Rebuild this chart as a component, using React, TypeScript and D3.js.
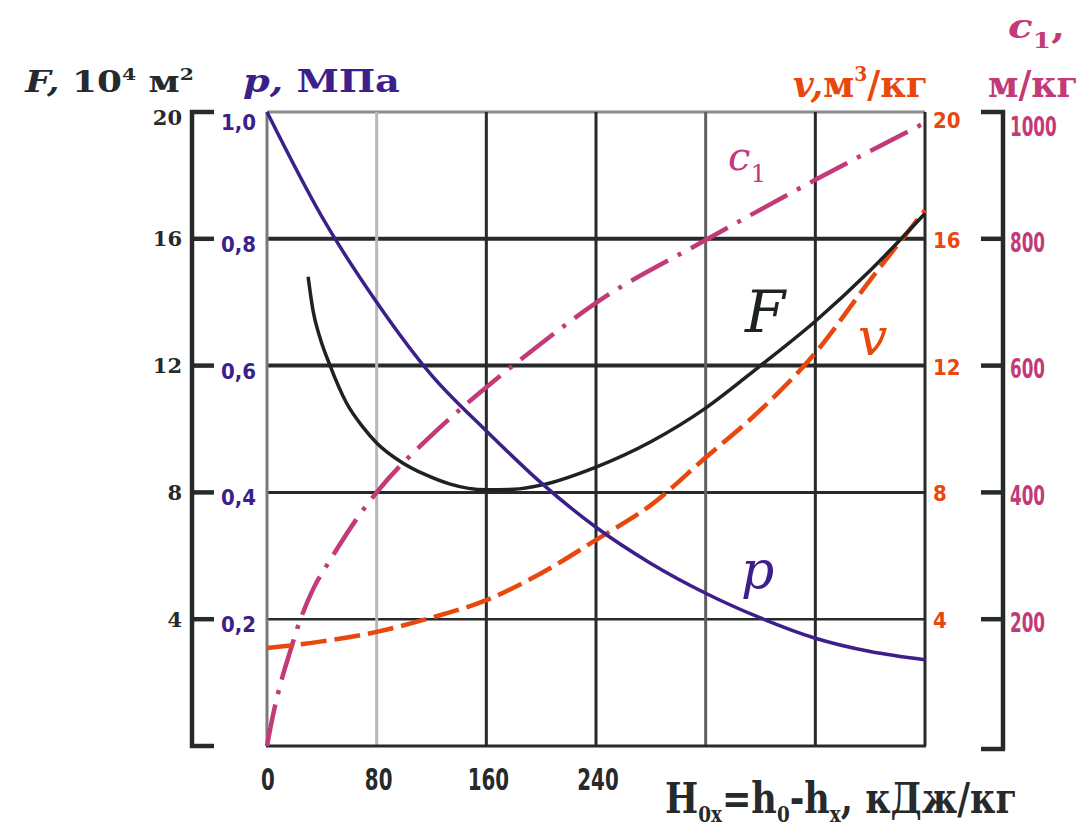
import React, { useEffect, useRef } from 'react';
import * as d3 from 'd3';

// x: H0x = h0 - hx, кДж/кг
const xTickValues = [0, 80, 160, 240];
const xGridValues = [80, 160, 240, 320, 400, 480];

const fTickValues = [20, 16, 12, 8, 4];
const pTickValues = [1.0, 0.8, 0.6, 0.4, 0.2];
const vTickValues = [20, 16, 12, 8, 4];
const cTickValues = [1000, 800, 600, 400, 200];

// p, МПа
const pH = [0, 40, 80, 120, 160, 200, 240, 280, 320, 360, 400, 440, 480];
const pValues = [1.0, 0.835, 0.7, 0.585, 0.497, 0.415, 0.345, 0.288, 0.241, 0.202, 0.17, 0.149, 0.136];

// F, 10^4 м2
const fH = [30, 33.5, 38.5, 46, 58, 70, 80, 99, 116, 133, 160, 180, 200, 240, 280, 320, 360, 400, 440, 480];
const fValues = [14.8, 13.75, 12.9, 12.0, 10.82, 10.06, 9.56, 8.93, 8.55, 8.27, 8.08, 8.1, 8.23, 8.8, 9.6, 10.66, 12.0, 13.4, 15.0, 16.8];

// v, м3/кг
const vH = [0, 40, 80, 120, 160, 200, 240, 280, 320, 360, 400, 440, 480];
const vValues = [3.09, 3.3, 3.6, 4.05, 4.6, 5.45, 6.5, 7.6, 9.1, 10.6, 12.4, 14.7, 16.9];

// c1, м/кг
const cH = [0, 5, 11, 17, 22, 34, 46, 71, 80, 126, 168, 200, 240, 320, 400, 480];
const cValues = [0, 55, 107, 150, 185, 249, 293, 375, 400, 502, 580, 635, 699, 798, 893, 983];

const DARK = '#262a2b';
const PURPLE = '#3d1f8c';
const ORANGE = '#e8480e';
const MAGENTA = '#c23a78';

const vGridStyle = (d: number) =>
  d === 80 ? { c: '#b8b8b8', w: 3 } : d === 320 ? { c: '#5c6061', w: 3 } : { c: DARK, w: 3 };
const hGridStyle = (d: number) =>
  d === 20 ? { c: '#8c8c8c', w: 3 } : d >= 12 ? { c: DARK, w: 4 } : d === 8 ? { c: DARK, w: 3 } : { c: DARK, w: 2.5 };

// squeeze a text horizontally so that it spans the given width
const fit = (t: any, width: number, anchor: 'start' | 'middle' | 'end' = 'start') => {
  const node = t.node() as SVGTextElement;
  const box = node.getBBox();
  if (!box.width) return;
  const sx = width / box.width;
  const ax = anchor === 'start' ? box.x : anchor === 'end' ? box.x + box.width : box.x + box.width / 2;
  t.attr('transform', `translate(${ax},0) scale(${sx},1) translate(${-ax},0)`);
};

const App = () => {
  const ref = useRef<SVGSVGElement>(null);

  useEffect(() => {
    const svg = d3.select(ref.current);
    svg.selectAll('*').remove();

    const x = d3.scaleLinear().domain([0, 480]).range([267, 925]);
    const yF = d3.scaleLinear().domain([0, 20]).range([746, 112]);
    const yP = d3.scaleLinear().domain([0, 1]).range([746, 112]);
    const yV = d3.scaleLinear().domain([0, 20]).range([746, 112]);
    const yC = d3.scaleLinear().domain([0, 1000]).range([746, 112]);

    svg.append('rect').attr('width', 1083).attr('height', 829).attr('fill', '#fff');

    // grid
    const grid = svg.append('g');
    grid.selectAll('.hg')
      .data(fTickValues)
      .enter().append('line')
      .attr('x1', x(0)).attr('x2', x(480))
      .attr('y1', (d) => yF(d)).attr('y2', (d) => yF(d))
      .attr('stroke', (d) => hGridStyle(d).c)
      .attr('stroke-width', (d) => hGridStyle(d).w);
    grid.selectAll('.vg')
      .data(xGridValues)
      .enter().append('line')
      .attr('x1', (d) => x(d)).attr('x2', (d) => x(d))
      .attr('y1', yF(20)).attr('y2', yF(0))
      .attr('stroke', (d) => vGridStyle(d).c)
      .attr('stroke-width', (d) => vGridStyle(d).w);
    grid.append('line')
      .attr('x1', x(0)).attr('x2', x(0)).attr('y1', yF(20)).attr('y2', yF(0))
      .attr('stroke', '#7a7a7a').attr('stroke-width', 3);
    grid.append('line')
      .attr('x1', x(0) - 1).attr('x2', x(480) + 1).attr('y1', yF(0)).attr('y2', yF(0))
      .attr('stroke', DARK).attr('stroke-width', 3);

    // left bracket axis (F)
    const left = svg.append('g');
    left.append('line').attr('x1', 192).attr('x2', 192).attr('y1', yF(20) - 2).attr('y2', yF(0) + 2)
      .attr('stroke', DARK).attr('stroke-width', 4.5);
    left.selectAll('.lt')
      .data([...fTickValues, 0])
      .enter().append('line')
      .attr('x1', 190).attr('x2', 214)
      .attr('y1', (d) => yF(d)).attr('y2', (d) => yF(d))
      .attr('stroke', DARK).attr('stroke-width', 4.5);
    left.selectAll('.ll')
      .data(fTickValues)
      .enter().append('text')
      .attr('x', 182).attr('y', (d) => yF(d) + (d === 20 ? 5 : 0))
      .attr('dy', '0.36em')
      .attr('text-anchor', 'end')
      .attr('font-family', 'DejaVu Serif')
      .attr('font-weight', 'bold')
      .attr('font-size', 21)
      .attr('fill', DARK)
      .text((d) => d);

    // p tick labels
    svg.selectAll('.pl')
      .data(pTickValues)
      .enter().append('text')
      .attr('x', 221).attr('y', (d) => yP(d) + (d === 1 ? 10 : 5))
      .attr('dy', '0.36em')
      .attr('font-family', 'DejaVu Sans Condensed, DejaVu Sans')
      .attr('font-weight', 'bold')
      .attr('font-size', 22)
      .attr('fill', PURPLE)
      .text((d) => d3.format('.1f')(d).replace('.', ','));

    // v tick labels
    svg.selectAll('.vl')
      .data(vTickValues)
      .enter().append('text')
      .attr('x', 933).attr('y', (d) => yV(d) + (d === 20 ? 8 : 1))
      .attr('dy', '0.36em')
      .attr('font-family', 'DejaVu Sans Condensed, DejaVu Sans')
      .attr('font-weight', 'bold')
      .attr('font-size', 22)
      .attr('fill', ORANGE)
      .text((d) => d);

    // right bracket axis (c1)
    const right = svg.append('g');
    right.append('line').attr('x1', 1003).attr('x2', 1003).attr('y1', yC(1000) - 2).attr('y2', yC(0) + 4)
      .attr('stroke', DARK).attr('stroke-width', 4.5);
    right.selectAll('.rt')
      .data([...cTickValues, 0])
      .enter().append('line')
      .attr('x1', 981).attr('x2', 1005)
      .attr('y1', (d) => (d === 0 ? yC(0) + 3 : yC(d))).attr('y2', (d) => (d === 0 ? yC(0) + 3 : yC(d)))
      .attr('stroke', DARK).attr('stroke-width', 4.5);
    right.selectAll('.rl')
      .data(cTickValues)
      .enter().append('text')
      .attr('x', 1010).attr('y', (d) => yC(d) + (d === 1000 ? 14 : 3))
      .attr('dy', '0.36em')
      .attr('font-family', 'DejaVu Sans Condensed, DejaVu Sans')
      .attr('font-weight', 'bold')
      .attr('font-size', 27)
      .attr('fill', MAGENTA)
      .text((d) => d)
      .each(function (d) {
        fit(d3.select(this), String(d).length * 11.7);
      });

    // x tick labels
    svg.selectAll('.xl')
      .data(xTickValues)
      .enter().append('text')
      .attr('x', (d) => x(d) + (d === 0 ? 1 : 2))
      .attr('y', 790)
      .attr('text-anchor', 'middle')
      .attr('font-family', 'DejaVu Sans Condensed, DejaVu Sans')
      .attr('font-weight', 'bold')
      .attr('font-size', 31)
      .attr('fill', DARK)
      .text((d) => d)
      .each(function (d) {
        fit(d3.select(this), String(d).length * 13.8, 'middle');
      });

    // curves
    const curve = d3.curveMonotoneX;
    const drawLine = (hs: number[], vs: number[], y: d3.ScaleLinear<number, number>, color: string, width: number, dash?: string) => {
      const pts = hs.map((h, i) => [h, vs[i]] as [number, number]);
      const line = d3.line<[number, number]>()
        .x((d) => x(d[0]))
        .y((d) => y(d[1]))
        .curve(curve);
      svg.append('path')
        .datum(pts)
        .attr('d', line)
        .attr('fill', 'none')
        .attr('stroke', color)
        .attr('stroke-width', width)
        .attr('stroke-dasharray', dash || null);
    };
    drawLine(cH, cValues, yC, MAGENTA, 4.5, '42,11,4,11');
    drawLine(vH, vValues, yV, ORANGE, 4.5, '26,8');
    drawLine(fH, fValues, yF, '#1e2223', 3.5);
    drawLine(pH, pValues, yP, PURPLE, 3.5);

    // axis titles
    const title = (xx: number, yy: number, color: string, size: number, len: number, parts: [string, string?, number?, number?][]) => {
      const t = svg.append('text')
        .attr('x', xx).attr('y', yy)
        .attr('font-family', 'DejaVu Serif')
        .attr('font-weight', 'bold')
        .attr('font-size', size)
        .attr('fill', color);
      parts.forEach(([s, style, dy, fs]) => {
        t.append('tspan')
          .attr('font-style', style === 'i' ? 'italic' : 'normal')
          .attr('dy', dy || 0)
          .attr('font-size', fs || size)
          .text(s);
      });
      fit(t, len);
    };
    title(25, 92, DARK, 30, 170, [['F,', 'i'], [' 10'], ['4', '', -12, 17], [' м', '', 12], ['2', '', -12, 17]]);
    title(243, 92, PURPLE, 32, 157, [['p,', 'i'], [' МПа']]);
    title(793, 97, ORANGE, 38, 135, [['v,', 'i'], ['м'], ['3', '', -16, 20], ['/кг', '', 16]]);
    title(1008, 38, MAGENTA, 34, 57, [['c', 'i'], ['1', '', 10, 22], [',', '', -10]]);
    title(988, 97, MAGENTA, 38, 90, [['м/кг']]);
    title(665, 813, DARK, 42, 352, [['H'], ['0x', '', 9, 22], ['=h', '', -9], ['0', '', 9, 22], ['-h', '', -9], ['x', '', 9, 22], [', кДж/кг', '', -9]]);

    // curve labels
    const label = (xx: number, yy: number, color: string, size: number, s: string, sub?: string) => {
      const t = svg.append('text')
        .attr('x', xx).attr('y', yy)
        .attr('font-family', 'DejaVu Serif')
        .attr('font-style', 'italic')
        .attr('font-size', size)
        .attr('fill', color)
        .text(s);
      if (sub) t.append('tspan').attr('font-style', 'normal').attr('font-size', size * 0.62).attr('dy', 12).text(sub);
    };
    label(745, 332, '#1e2223', 58, 'F');
    label(858, 355, ORANGE, 52, 'v');
    label(741, 588, PURPLE, 52, 'p');
    label(728, 170, MAGENTA, 40, 'c', '1');
  }, []);

  return (
    <svg ref={ref} width={1083} height={829} style={{ position: 'absolute', left: 0, top: 0 }} />
  );
};

export default App;
